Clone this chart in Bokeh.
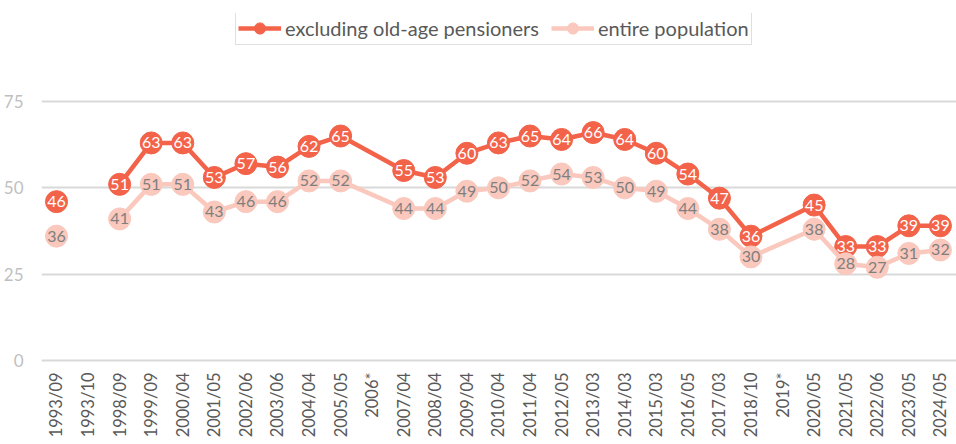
from bokeh.plotting import figure
from bokeh.models import ColumnDataSource, Range1d, FixedTicker, Legend, LegendItem
from bokeh.embed import file_html
from bokeh.resources import INLINE
from bokeh.core.properties import value
import math

categories = ["1993/09", "1993/10", "1998/09", "1999/09", "2000/04", "2001/05", "2002/06",
              "2003/06", "2004/04", "2005/05", "2006*", "2007/04", "2008/04", "2009/04",
              "2010/04", "2011/04", "2012/05", "2013/03", "2014/03", "2015/03", "2016/05",
              "2017/03", "2018/10", "2019*", "2020/05", "2021/05", "2022/06", "2023/05", "2024/05"]
nan = float("nan")
excl_pensioners = [46, nan, 51, 63, 63, 53, 57, 56, 62, 65, None, 55, 53, 60, 63, 65, 64, 66,
                   64, 60, 54, 47, 36, None, 45, 33, 33, 39, 39]
entire_population = [36, nan, 41, 51, 51, 43, 46, 46, 52, 52, None, 44, 44, 49, 50, 52, 54, 53,
                     50, 49, 44, 38, 30, None, 38, 28, 27, 31, 32]
y_ticks = [0, 25, 50, 75]

RED = "#F3634A"
PINK = "#FAC8BC"
FONT = "Lato"


def series(vals):
    # None = survey without this value (line bridges the gap), nan = break in the line
    xs, ys, lx, ly, lt = [], [], [], [], []
    for i, v in enumerate(vals):
        if v is None:
            continue
        xs.append(i)
        ys.append(v)
        if not (isinstance(v, float) and math.isnan(v)):
            lx.append(i)
            ly.append(v)
            lt.append(str(v))
    return (ColumnDataSource(dict(x=xs, y=ys)),
            ColumnDataSource(dict(x=lx, y=ly, t=lt)))


red_line_src, red_pts = series(excl_pensioners)
pink_line_src, pink_pts = series(entire_population)

p = figure(width=956, height=444, output_backend="svg", toolbar_location=None,
           x_range=Range1d(-0.475, 28.51), y_range=Range1d(-24.33, 100.48),
           x_axis_location=None,
           min_border_left=41, min_border_right=0, min_border_top=13, min_border_bottom=0)
p.outline_line_color = None
p.background_fill_color = "white"
p.border_fill_color = "white"
p.xgrid.grid_line_color = None

p.yaxis.ticker = FixedTicker(ticks=y_ticks)
p.yaxis.major_label_text_font = FONT
p.yaxis.major_label_text_font_size = "17px"
p.yaxis.major_label_text_color = "#BFBFBF"
p.yaxis.major_label_standoff = 18
p.yaxis.major_tick_out = 0
p.yaxis.major_tick_in = 0
p.yaxis.axis_line_color = None
p.yaxis.major_tick_line_color = None
p.yaxis.minor_tick_line_color = None
p.ygrid.ticker = FixedTicker(ticks=y_ticks)
p.ygrid.grid_line_color = "#D9D9D9"
p.ygrid.grid_line_width = 2

# category labels along the value axis base (rotated, reading upwards)
cat_src = ColumnDataSource(dict(x=list(range(len(categories))),
                                y=[y_ticks[0]] * len(categories), t=categories))
p.text("x", "y", text="t", source=cat_src, angle=math.pi / 2, y_offset=12,
       text_align="right", text_baseline="middle", text_color="#595959",
       text_font=value(FONT), text_font_size="16.5px")

# series 1
r1l = p.line("x", "y", source=red_line_src, line_color=RED, line_width=4.5)
r1c = p.scatter("x", "y", source=red_pts, size=22, fill_color=RED, line_color=RED)
# series 2
r2l = p.line("x", "y", source=pink_line_src, line_color=PINK, line_width=4.5)
r2c = p.scatter("x", "y", source=pink_pts, size=22, fill_color=PINK, line_color=PINK)

# data labels
p.text("x", "y", text="t", source=red_pts, text_color="white", text_font=value(FONT),
       text_font_size="16px", text_align="center", text_baseline="middle")
p.text("x", "y", text="t", source=pink_pts, text_color="#7F7F7F", text_font=value(FONT),
       text_font_size="16px", text_align="center", text_baseline="middle")

legend = Legend(items=[LegendItem(label="excluding old-age pensioners", renderers=[r1l, r1c]),
                       LegendItem(label="entire population", renderers=[r2l, r2c])],
                location=(194, 399), orientation="horizontal",
                label_text_font=FONT, label_text_font_size="20px", label_text_color="#595959",
                glyph_width=43, glyph_height=28, label_height=28, label_standoff=4,
                spacing=12, padding=2, margin=0,
                border_line_color="#BFBFBF", border_line_width=1,
                background_fill_color="white", background_fill_alpha=1)
p.add_layout(legend, "center")

open("out.html", "w").write(file_html(p, INLINE))
